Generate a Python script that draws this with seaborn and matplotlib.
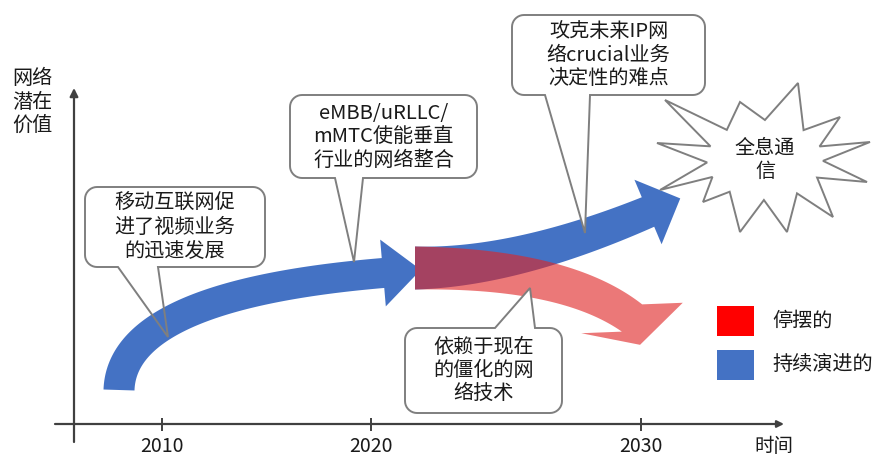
import numpy as np
import matplotlib
matplotlib.use('Agg')
import matplotlib.pyplot as plt
import seaborn as sns
from matplotlib.patches import Polygon, Rectangle

sns.set_theme(style='white')
plt.rcParams['font.family'] = ['Noto Sans CJK SC', 'DejaVu Sans']

# ---- content ----
years = ['2010', '2020', '2030']
y_title = '网络\n潜在\n价值'
x_title = '时间'
callout_texts = ['移动互联网促\n进了视频业务\n的迅速发展',
                 'eMBB/uRLLC/\nmMTC使能垂直\n行业的网络整合',
                 '攻克未来IP网\n络crucial业务\n决定性的难点',
                 '依赖于现在\n的僵化的网\n络技术']
star_text = '全息通\n信'
legend_labels = ['停摆的', '持续演进的']
legend_colors = ['#FF0000', '#4472C4']

BLUE = '#4472C4'
RED = '#E02525'
EDGE = '#7F7F7F'
AX = '#404040'

fig = plt.figure(figsize=(8.74, 4.57), dpi=100)
ax = fig.add_axes([0, 0, 1, 1])
ax.set_xlim(0, 874)
ax.set_ylim(457, 0)
ax.axis('off')


def bez(p0, p1, p2, n=80):
    p0, p1, p2 = map(np.asarray, (p0, p1, p2))
    t = np.linspace(0, 1, n)[:, None]
    P = (1 - t) ** 2 * p0 + 2 * (1 - t) * t * p1 + t ** 2 * p2
    D = 2 * (1 - t) * (p1 - p0) + 2 * t * (p2 - p1)
    return P, D


def curved_arrow(p0, p1, p2, w0, w1, hw, hl, head_dir=None, **kw):
    P, D = bez(p0, p1, p2)
    T = D / np.linalg.norm(D, axis=1)[:, None]
    N = np.stack([-T[:, 1], T[:, 0]], 1)
    w = np.linspace(w0, w1, len(P))[:, None] / 2
    left = P + N * w
    right = P - N * w
    e = P[-1]
    if head_dir is None:
        te = T[-1]
    else:
        te = np.asarray(head_dir, float)
        te = te / np.linalg.norm(te)
    ne = np.array([-te[1], te[0]])
    head = np.array([e + ne * hw / 2, e + te * hl, e - ne * hw / 2])
    verts = np.vstack([left, head, right[::-1]])
    ax.add_patch(Polygon(verts, closed=True, **kw))


def callout(box, r, edge, base, tip, text, fs=14.5, under=False):
    x0, y0, x1, y1 = box
    pts = []
    def arc(cx, cy, a0, a1):
        a = np.radians(np.linspace(a0, a1, 10))
        return [(cx + r * np.cos(t), cy + r * np.sin(t)) for t in a]
    pts += arc(x0 + r, y0 + r, 180, 270)
    if edge == 'top':
        pts += [(base[0], y0), tip, (base[1], y0)]
    pts += arc(x1 - r, y0 + r, 270, 360)
    pts += arc(x1 - r, y1 - r, 0, 90)
    if edge == 'bottom':
        pts += [(base[1], y1), tip, (base[0], y1)]
    pts += arc(x0 + r, y1 - r, 90, 180)
    pts = np.array(pts)
    if under:
        ax.add_patch(Polygon(pts, closed=True, facecolor='white', edgecolor='none', zorder=1))
        ax.add_patch(Polygon(pts, closed=True, facecolor='none', edgecolor=EDGE, lw=1.4, zorder=5))
    else:
        ax.add_patch(Polygon(pts, closed=True, facecolor='white', edgecolor=EDGE, lw=1.4, zorder=5))
    ax.text((x0 + x1) / 2, (y0 + y1) / 2, text, ha='center', va='center', fontsize=fs,
            color='#1a1a1a', linespacing=1.15, zorder=6)


# ---- axes ----
ax.annotate('', xy=(74, 88), xytext=(74, 442),
            arrowprops=dict(arrowstyle='-|>', color=AX, lw=1.6, mutation_scale=12, shrinkA=0, shrinkB=0))
ax.annotate('', xy=(784, 424), xytext=(55, 424),
            arrowprops=dict(arrowstyle='-|>', color=AX, lw=1.6, mutation_scale=10, shrinkA=0, shrinkB=0))
tick_x = [162, 371, 641]
ax.vlines(tick_x, 418, 431, color=AX, lw=1.4)
for x, lab in zip(tick_x, years):
    ax.text(x, 447, lab, ha='center', va='center', fontsize=14, color='#1a1a1a')
ax.text(774, 447, x_title, ha='center', va='center', fontsize=14, color='#1a1a1a')
ax.text(32, 102, y_title, ha='center', va='center', fontsize=14.5, color='#1a1a1a', linespacing=1.15)

# ---- arrows ----
curved_arrow((119, 390), (122, 295), (383, 273), 31, 30, 67, 38,
             facecolor=BLUE, edgecolor='none', zorder=2)
curved_arrow((415, 268), (515, 268), (648, 212), 43, 32, 70, 35,
             facecolor=BLUE, edgecolor='none', zorder=2)
curved_arrow((415, 268), (565, 268), (632, 318), 43, 34, 106, 28, head_dir=(0.3, 1.0),
             facecolor=RED, edgecolor='none', alpha=0.62, zorder=3)

# ---- callouts ----
callout((85, 187, 265, 267), 12, 'bottom', (118, 158), (168, 337), callout_texts[0], under=True)
callout((290, 95, 477, 178), 12, 'bottom', (335, 363), (354, 262), callout_texts[1], under=True)
callout((512, 15, 705, 95), 12, 'bottom', (545, 590), (585, 233), callout_texts[2])
callout((405, 328, 562, 413), 12, 'top', (495, 535), (530, 288), callout_texts[3])

# ---- starburst ----
star_outer = [(665, 100), (740, 102), (798, 83), (840, 117), (870, 142), (867, 182),
              (833, 217), (787, 232), (740, 232), (703, 202), (660, 190), (657, 143)]
cx, cy = 765, 160
outer = np.array(star_outer, dtype=float)
ang = np.arctan2(outer[:, 1] - cy, outer[:, 0] - cx)
order = np.argsort(ang)
outer = outer[order]
ang = ang[order]
verts = []
for i in range(len(outer)):
    verts.append(outer[i])
    a0, a1 = ang[i], ang[(i + 1) % len(outer)]
    if a1 < a0:
        a1 += 2 * np.pi
    am = (a0 + a1) / 2
    verts.append((cx + 58 * np.cos(am), cy + 40 * np.sin(am)))
ax.add_patch(Polygon(np.array(verts), closed=True, facecolor='white', edgecolor=EDGE, lw=1.4, zorder=4))
ax.text(765, 160, star_text, ha='center', va='center', fontsize=14.5, color='#1a1a1a',
        linespacing=1.15, zorder=6)

# ---- legend ----
for (y0, col, lab) in zip([306, 350], legend_colors, legend_labels):
    ax.add_patch(Rectangle((717, y0), 37, 30, facecolor=col, edgecolor='none', zorder=2))
    ax.text(772, y0 + 15, lab, ha='left', va='center', fontsize=14.5, color='#1a1a1a')

fig.savefig('out.png', dpi=100)
